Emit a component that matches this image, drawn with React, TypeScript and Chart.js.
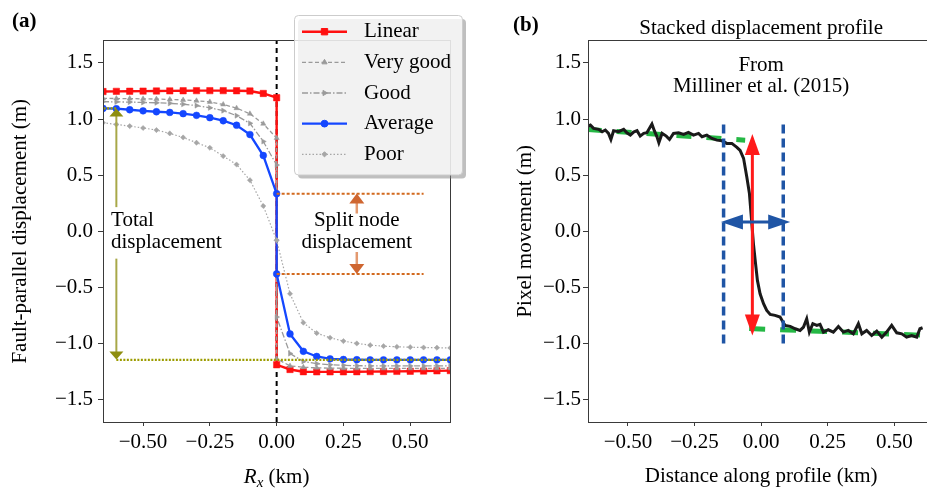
import React, { useEffect, useRef } from 'react';
import { Chart, registerables } from 'chart.js';

Chart.register(...registerables);

const FONT = '"Liberation Serif", "Times New Roman", Times, serif';
Chart.defaults.font.family = FONT;
const AXIS = '#3a3a3a';

// ---------------- Panel (a) data ----------------
const nodeX = [-0.65, -0.6, -0.55, -0.5, -0.45, -0.4, -0.35, -0.3, -0.25, -0.2, -0.15, -0.1, -0.05, 0,
  0, 0.05, 0.1, 0.15, 0.2, 0.25, 0.3, 0.35, 0.4, 0.45, 0.5, 0.55, 0.6, 0.65];
const linearY = [1.245, 1.247, 1.248, 1.249, 1.25, 1.251, 1.252, 1.253, 1.253, 1.253, 1.252, 1.25, 1.228, 1.19,
  -1.19, -1.232, -1.252, -1.253, -1.253, -1.253, -1.252, -1.251, -1.25, -1.249, -1.248, -1.246, -1.244, -1.242];
const veryGoodY = [1.184, 1.183, 1.182, 1.18, 1.178, 1.175, 1.17, 1.163, 1.153, 1.13, 1.097, 1.047, 0.958, 0.83,
  -1.137, -1.2, -1.212, -1.217, -1.22, -1.221, -1.222, -1.222, -1.222, -1.222, -1.222, -1.222, -1.222, -1.222];
const goodY = [1.155, 1.153, 1.151, 1.148, 1.145, 1.14, 1.132, 1.12, 1.1, 1.075, 1.03, 0.962, 0.8, 0.59,
  -0.765, -1.09, -1.16, -1.18, -1.19, -1.195, -1.198, -1.2, -1.2, -1.2, -1.2, -1.2, -1.2, -1.2];
const averageY = [1.095, 1.092, 1.083, 1.073, 1.065, 1.059, 1.048, 1.033, 1.012, 0.985, 0.945, 0.862, 0.675, 0.335,
  -0.38, -0.915, -1.07, -1.116, -1.137, -1.143, -1.145, -1.146, -1.146, -1.146, -1.146, -1.146, -1.146, -1.146];
const poorY = [0.967, 0.952, 0.937, 0.92, 0.902, 0.872, 0.836, 0.789, 0.744, 0.67, 0.595, 0.455, 0.225, -0.08,
  -0.08, -0.557, -0.815, -0.908, -0.949, -0.979, -1.0, -1.015, -1.024, -1.03, -1.033, -1.036, -1.038, -1.04];

const faultX = [0, 0];
const faultY = [-1.7, 1.7];
const totalTopX = [-0.7, -0.6];
const totalTopY = [1.095, 1.095];
const totalBottomX = [-0.6, 0.7];
const totalBottomY = [-1.146, -1.146];
const splitX = [0, 0.55];
const splitUpperY = [0.335, 0.335];
const splitLowerY = [-0.38, -0.38];

const yTicks = [-1.5, -1.0, -0.5, 0, 0.5, 1.0, 1.5];
const xTicks = [-0.5, -0.25, 0, 0.25, 0.5];
const seriesLabels = ['Linear', 'Very good', 'Good', 'Average', 'Poor'];

// ---------------- Panel (b) data ----------------
const profileX = [-0.654, -0.641, -0.629, -0.610, -0.597, -0.585, -0.573, -0.564, -0.554, -0.535,
  -0.516, -0.504, -0.491, -0.479, -0.466, -0.454, -0.441, -0.429, -0.416, -0.410,
  -0.401, -0.391, -0.384, -0.372, -0.356, -0.344, -0.329, -0.310, -0.291, -0.273,
  -0.254, -0.235, -0.222, -0.204, -0.185, -0.166, -0.147, -0.129, -0.110, -0.091,
  -0.079, -0.066, -0.054, -0.044, -0.039, -0.034, -0.029, -0.021, -0.014, -0.004,
  0.009, 0.021, 0.034, 0.052, 0.071, 0.084, 0.090, 0.109, 0.128, 0.146,
  0.159, 0.171, 0.181, 0.194, 0.209, 0.221, 0.234, 0.252, 0.271, 0.290,
  0.309, 0.327, 0.346, 0.365, 0.378, 0.396, 0.415, 0.434, 0.453, 0.471,
  0.490, 0.509, 0.528, 0.546, 0.565, 0.584, 0.596, 0.606];
const profileY = [0.931, 0.946, 0.917, 0.908, 0.887, 0.902, 0.872, 0.818, 0.896, 0.887,
  0.908, 0.878, 0.857, 0.884, 0.896, 0.848, 0.872, 0.878, 0.931, 0.955,
  0.896, 0.842, 0.789, 0.872, 0.848, 0.818, 0.872, 0.878, 0.863, 0.881,
  0.857, 0.872, 0.842, 0.857, 0.827, 0.812, 0.806, 0.783, 0.783, 0.747,
  0.720, 0.650, 0.485, 0.336, 0.188, 0.039, -0.110, -0.289, -0.438, -0.557,
  -0.646, -0.705, -0.741, -0.750, -0.765, -0.818, -0.839, -0.848, -0.869, -0.884,
  -0.854, -0.780, -0.899, -0.824, -0.839, -0.830, -0.899, -0.878, -0.899, -0.848,
  -0.899, -0.884, -0.914, -0.824, -0.914, -0.884, -0.929, -0.890, -0.944, -0.899,
  -0.839, -0.905, -0.914, -0.944, -0.929, -0.944, -0.869, -0.860];
const greenLeftX = [-0.655, -0.06];
const greenLeftY = [0.908, 0.812];
const greenRightX = [-0.045, 0.61];
const greenRightY = [-0.867, -0.927];
const zoneLeftX = [-0.141, -0.141];
const zoneRightX = [0.083, 0.083];
const zoneY = [-1.0, 0.975];

// ---------------- helpers ----------------
const zip = (xs: number[], ys: number[]) => xs.map((x, i) => ({ x, y: ys[i] }));
const fmt = (v: number, d: number) => (v < -1e-9 ? '\u2212' : '') + Math.abs(v).toFixed(d);

function head(ctx: CanvasRenderingContext2D, tx: number, ty: number, ang: number, len: number, w: number, color: string) {
  const bx = tx - Math.cos(ang) * len;
  const by = ty - Math.sin(ang) * len;
  const nx = -Math.sin(ang) * w / 2;
  const ny = Math.cos(ang) * w / 2;
  ctx.beginPath();
  ctx.moveTo(tx, ty);
  ctx.lineTo(bx + nx, by + ny);
  ctx.lineTo(bx - nx, by - ny);
  ctx.closePath();
  ctx.fillStyle = color;
  ctx.fill();
}

function drawArrow(ctx: CanvasRenderingContext2D, x1: number, y1: number, x2: number, y2: number,
  o: { line: string; lw: number; head: string; len: number; w: number; both?: boolean }) {
  const ang = Math.atan2(y2 - y1, x2 - x1);
  const c = Math.cos(ang), s = Math.sin(ang);
  const sx = o.both ? x1 + c * o.len * 0.8 : x1;
  const sy = o.both ? y1 + s * o.len * 0.8 : y1;
  ctx.save();
  ctx.beginPath();
  ctx.moveTo(sx, sy);
  ctx.lineTo(x2 - c * o.len * 0.8, y2 - s * o.len * 0.8);
  ctx.strokeStyle = o.line;
  ctx.lineWidth = o.lw;
  ctx.setLineDash([]);
  ctx.stroke();
  head(ctx, x2, y2, ang, o.len, o.w, o.head);
  if (o.both) head(ctx, x1, y1, ang + Math.PI, o.len, o.w, o.head);
  ctx.restore();
}

function marker(ctx: CanvasRenderingContext2D, style: string, x: number, y: number, r: number, rot: number) {
  ctx.save();
  ctx.translate(x, y);
  ctx.rotate((rot * Math.PI) / 180);
  ctx.beginPath();
  if (style === 'rect') {
    const s = r * Math.SQRT1_2;
    ctx.rect(-s, -s, 2 * s, 2 * s);
  } else if (style === 'circle') {
    ctx.arc(0, 0, r, 0, Math.PI * 2);
  } else if (style === 'triangle') {
    for (let i = 0; i < 3; i++) {
      const a = (i * 2 * Math.PI) / 3;
      const px = Math.sin(a) * r, py = -Math.cos(a) * r;
      if (i === 0) ctx.moveTo(px, py); else ctx.lineTo(px, py);
    }
    ctx.closePath();
  } else if (style === 'rectRot') {
    ctx.moveTo(-r, 0); ctx.lineTo(0, -r); ctx.lineTo(r, 0); ctx.lineTo(0, r); ctx.closePath();
  }
  ctx.fill();
  ctx.stroke();
  ctx.restore();
}

function makeScales(o: { yWidth: number; yTitle: string; yTitlePad: number; yTickPad: number; xTitle?: string }) {
  return {
    x: {
      type: 'linear', min: -0.65, max: 0.65,
      afterBuildTicks: (s: any) => { s.ticks = xTicks.map((v) => ({ value: v })); },
      afterFit: (s: any) => { s.height = 67; },
      grid: { drawOnChartArea: false, drawTicks: true, tickLength: 4, color: AXIS, lineWidth: 1 },
      border: { display: true, color: AXIS, width: 1 },
      ticks: { color: '#000', font: { family: FONT, size: 21 }, padding: 4, maxRotation: 0, autoSkip: false,
        callback: (v: any) => fmt(Number(v), 2) },
      title: o.xTitle
        ? { display: true, text: o.xTitle, color: '#000', font: { family: FONT, size: 21, lineHeight: 1.2 }, padding: { top: 0, bottom: 0 } }
        : { display: false },
    },
    y: {
      type: 'linear', min: -1.7, max: 1.7,
      afterBuildTicks: (s: any) => { s.ticks = yTicks.map((v) => ({ value: v })); },
      afterFit: (s: any) => { s.width = o.yWidth; },
      grid: { drawOnChartArea: false, drawTicks: true, tickLength: 5, color: AXIS, lineWidth: 1 },
      border: { display: true, color: AXIS, width: 1 },
      ticks: { color: '#000', font: { family: FONT, size: 21 }, padding: o.yTickPad, autoSkip: false,
        callback: (v: any) => fmt(Number(v), 1) },
      title: { display: true, text: o.yTitle, color: '#000', font: { family: FONT, size: 21, lineHeight: 1.2 },
        padding: { top: o.yTitlePad, bottom: 0 } },
    },
  };
}

const framePlugin = {
  id: 'frame',
  afterDatasetsDraw(chart: any) {
    const { ctx, chartArea: a } = chart;
    const al = (p: number) => Math.round(p - 0.5) + 0.5;
    ctx.save();
    ctx.strokeStyle = AXIS;
    ctx.lineWidth = 1;
    ctx.setLineDash([]);
    ctx.strokeRect(al(a.left), al(a.top), al(a.right) - al(a.left), al(a.bottom) - al(a.top));
    ctx.restore();
  },
};

const panelAPlugin = {
  id: 'panelA',
  afterDatasetsDraw(chart: any) {
    const { ctx, scales } = chart;
    const X = (v: number) => scales.x.getPixelForValue(v);
    const Y = (v: number) => scales.y.getPixelForValue(v);
    const olive = { line: '#a8a848', lw: 2, head: '#8e8e10', len: 8, w: 14 };
    const orange = { line: '#e3996f', lw: 2.5, head: '#cf6630', len: 10, w: 15 };
    drawArrow(ctx, X(-0.6), Y(0.215), X(-0.6), Y(1.095), olive);
    drawArrow(ctx, X(-0.6), Y(-0.244), X(-0.6), Y(-1.143), olive);
    drawArrow(ctx, X(0.3), Y(0.158), X(0.3), Y(0.337), orange);
    drawArrow(ctx, X(0.3), Y(-0.185), X(0.3), Y(-0.382), orange);
    ctx.save();
    ctx.font = `21px ${FONT}`;
    ctx.fillStyle = '#000';
    ctx.textBaseline = 'alphabetic';
    ctx.textAlign = 'left';
    ctx.fillText('Total', X(-0.62), Y(0.05));
    ctx.fillText('displacement', X(-0.62), Y(-0.145));
    ctx.textAlign = 'center';
    ctx.fillText('Split node', X(0.3), Y(0.05));
    ctx.fillText('displacement', X(0.3), Y(-0.145));
    ctx.restore();
  },
  afterDraw(chart: any) {
    const { ctx, chartArea: a } = chart;
    ctx.save();
    ctx.fillStyle = '#000';
    ctx.textBaseline = 'alphabetic';
    ctx.textAlign = 'left';
    ctx.font = `bold 21px ${FONT}`;
    ctx.fillText('(a)', 12, 27);
    // x-axis title: R_x (km)
    const base = 483;
    ctx.font = `italic 21px ${FONT}`;
    const wR = ctx.measureText('R').width;
    ctx.font = `italic 15px ${FONT}`;
    const wx = ctx.measureText('x').width;
    ctx.font = `21px ${FONT}`;
    const wk = ctx.measureText(' (km)').width;
    let sx = (a.left + a.right) / 2 - (wR + wx + wk) / 2;
    ctx.font = `italic 21px ${FONT}`;
    ctx.fillText('R', sx, base);
    sx += wR;
    ctx.font = `italic 15px ${FONT}`;
    ctx.fillText('x', sx, base + 4);
    sx += wx;
    ctx.font = `21px ${FONT}`;
    ctx.fillText(' (km)', sx, base);
    ctx.restore();
  },
};

function roundRect(ctx: CanvasRenderingContext2D, x: number, y: number, w: number, h: number, r: number) {
  ctx.beginPath();
  ctx.moveTo(x + r, y);
  ctx.lineTo(x + w - r, y);
  ctx.arcTo(x + w, y, x + w, y + r, r);
  ctx.lineTo(x + w, y + h - r);
  ctx.arcTo(x + w, y + h, x + w - r, y + h, r);
  ctx.lineTo(x + r, y + h);
  ctx.arcTo(x, y + h, x, y + h - r, r);
  ctx.lineTo(x, y + r);
  ctx.arcTo(x, y, x + r, y, r);
  ctx.closePath();
}

const legendPlugin = {
  id: 'customLegend',
  afterDraw(chart: any) {
    const ctx: CanvasRenderingContext2D = chart.ctx;
    const bx = 294.5, by = 15.5, bw = 168, bh = 159.5;
    ctx.save();
    roundRect(ctx, bx + 3.5, by + 3.5, bw, bh, 4);
    ctx.fillStyle = 'rgba(128,128,128,0.5)';
    ctx.fill();
    roundRect(ctx, bx, by, bw, bh, 4);
    ctx.fillStyle = 'rgba(255,255,255,0.8)';
    ctx.fill();
    ctx.strokeStyle = '#cccccc';
    ctx.lineWidth = 1;
    ctx.stroke();
    const dsets = chart.data.datasets;
    seriesLabels.forEach((lab, i) => {
      const d = dsets.find((q: any) => q.label === lab);
      if (!d) return;
      const yy = 31.7 + i * 30.65;
      ctx.beginPath();
      ctx.moveTo(302, yy);
      ctx.lineTo(347, yy);
      ctx.strokeStyle = d.borderColor;
      ctx.lineWidth = d.borderWidth;
      ctx.setLineDash(d.borderDash || []);
      ctx.stroke();
      ctx.setLineDash([]);
      ctx.fillStyle = d.borderColor;
      ctx.lineWidth = 1;
      marker(ctx, d.pointStyle, 324.5, yy, d.pointRadius, d.pointRotation || 0);
      ctx.fillStyle = '#000';
      ctx.font = `21px ${FONT}`;
      ctx.textAlign = 'left';
      ctx.textBaseline = 'middle';
      ctx.fillText(lab, 364, yy);
    });
    ctx.restore();
  },
};

const panelBPlugin = {
  id: 'panelB',
  afterDatasetsDraw(chart: any) {
    const { ctx, scales, chartArea: a } = chart;
    const X = (v: number) => scales.x.getPixelForValue(v);
    const Y = (v: number) => scales.y.getPixelForValue(v);
    drawArrow(ctx, X(-0.033), Y(-0.929), X(-0.033), Y(0.866), { line: '#ff1a1a', lw: 3, head: '#ff1a1a', len: 21, w: 15, both: true });
    drawArrow(ctx, X(-0.151), Y(0.083), X(0.109), Y(0.083), { line: '#1f55a5', lw: 3, head: '#1f55a5', len: 22, w: 15, both: true });
    ctx.save();
    ctx.fillStyle = '#000';
    ctx.textBaseline = 'alphabetic';
    ctx.textAlign = 'center';
    ctx.font = `21px ${FONT}`;
    ctx.fillText('From', X(0), Y(1.43));
    ctx.fillText('Milliner et al. (2015)', X(0), Y(1.244));
    ctx.fillText('Stacked displacement profile', X(0), a.top - 6.7);
    ctx.textAlign = 'left';
    ctx.font = `bold 21px ${FONT}`;
    ctx.fillText('(b)', 33, 31);
    ctx.restore();
  },
};

const lineDefaults = { showLine: true, tension: 0, pointRadius: 0, borderDash: [] as number[] };

const datasetsA = [
  { label: 'Linear', data: zip(nodeX, linearY), borderColor: '#ff1010', backgroundColor: '#ff1010', borderWidth: 2.4,
    pointStyle: 'rect', pointRadius: 4.5, pointBorderWidth: 0.5, order: 5 },
  { label: 'Very good', data: zip(nodeX, veryGoodY), borderColor: '#9a9a9a', backgroundColor: '#9a9a9a', borderWidth: 1.3,
    borderDash: [4, 2.5], pointStyle: 'triangle', pointRadius: 3, pointBorderWidth: 0.5, order: 4 },
  { label: 'Good', data: zip(nodeX, goodY), borderColor: '#9a9a9a', backgroundColor: '#9a9a9a', borderWidth: 1.3,
    borderDash: [6, 2, 1.5, 2], pointStyle: 'triangle', pointRotation: 90, pointRadius: 3, pointBorderWidth: 0.5, order: 3 },
  { label: 'Average', data: zip(nodeX, averageY), borderColor: '#1447ff', backgroundColor: '#1447ff', borderWidth: 2.3,
    pointStyle: 'circle', pointRadius: 3.4, pointBorderWidth: 0.5, order: 2 },
  { label: 'Poor', data: zip(nodeX, poorY), borderColor: '#a6a6a6', backgroundColor: '#a6a6a6', borderWidth: 1.2,
    borderDash: [1.5, 2], pointStyle: 'rectRot', pointRadius: 2.6, pointBorderWidth: 0.5, order: 1 },
  { label: 'fault', data: zip(faultX, faultY), borderColor: '#000', borderWidth: 2, borderDash: [5, 4], order: 10 },
  { label: 'totalTop', data: zip(totalTopX, totalTopY), borderColor: '#9c9c00', borderWidth: 2.2, borderDash: [2, 1.5], order: 0 },
  { label: 'totalBottom', data: zip(totalBottomX, totalBottomY), borderColor: '#9c9c00', borderWidth: 2.2, borderDash: [2, 1.5], order: 0 },
  { label: 'splitUpper', data: zip(splitX, splitUpperY), borderColor: '#d2691e', borderWidth: 2, borderDash: [3, 2], order: 0 },
  { label: 'splitLower', data: zip(splitX, splitLowerY), borderColor: '#d2691e', borderWidth: 2, borderDash: [3, 2], order: 0 },
].map((d) => ({ ...lineDefaults, ...d }));

const datasetsB = [
  { label: 'profile', data: zip(profileX, profileY), borderColor: '#1a1a1a', borderWidth: 3, order: 1 },
  { label: 'fitLeft', data: zip(greenLeftX, greenLeftY), borderColor: '#25b845', borderWidth: 5, borderDash: [15, 15], order: 2 },
  { label: 'fitRight', data: zip(greenRightX, greenRightY), borderColor: '#25b845', borderWidth: 5, borderDash: [16, 15], order: 2 },
  { label: 'zoneLeft', data: zip(zoneLeftX, zoneY), borderColor: '#1f55a5', borderWidth: 3.5, borderDash: [9, 5], order: 0 },
  { label: 'zoneRight', data: zip(zoneRightX, zoneY), borderColor: '#1f55a5', borderWidth: 3.5, borderDash: [9, 5], order: 0 },
].map((d) => ({ ...lineDefaults, ...d }));

const commonOptions = {
  responsive: false,
  animation: false as const,
  events: [] as any[],
  plugins: { legend: { display: false }, tooltip: { enabled: false }, title: { display: false } },
};

export default function App() {
  const aRef = useRef<HTMLCanvasElement>(null);
  const bRef = useRef<HTMLCanvasElement>(null);

  useEffect(() => {
    const ca = new Chart(aRef.current as HTMLCanvasElement, {
      type: 'scatter',
      data: { datasets: datasetsA as any },
      options: {
        ...commonOptions,
        layout: { padding: { left: 0, top: 40.5, right: 19.7, bottom: 0 }, autoPadding: false },
        scales: makeScales({ yWidth: 103, yTitle: 'Fault-parallel displacement (m)', yTitlePad: 7.4, yTickPad: 5 }) as any,
      } as any,
      plugins: [framePlugin, panelAPlugin, legendPlugin],
    });
    const cb = new Chart(bRef.current as HTMLCanvasElement, {
      type: 'scatter',
      data: { datasets: datasetsB as any },
      options: {
        ...commonOptions,
        layout: { padding: { left: 0, top: 40.5, right: 5.7, bottom: 0 }, autoPadding: false },
        scales: makeScales({ yWidth: 108, yTitle: 'Pixel movement (m)', yTitlePad: 32.6, yTickPad: 2,
          xTitle: 'Distance along profile (km)' }) as any,
      } as any,
      plugins: [framePlugin, panelBPlugin],
    });
    return () => {
      ca.destroy();
      cb.destroy();
    };
  }, []);

  return (
    <div style={{ position: 'fixed', left: 0, top: 0, width: 927, height: 489, overflow: 'hidden', background: '#fff' }}>
      <canvas ref={aRef} width={470} height={489}
        style={{ position: 'absolute', left: 0, top: 0, width: 470, height: 489 }} />
      <canvas ref={bRef} width={460} height={489}
        style={{ position: 'absolute', left: 480, top: 0, width: 460, height: 489 }} />
    </div>
  );
}
